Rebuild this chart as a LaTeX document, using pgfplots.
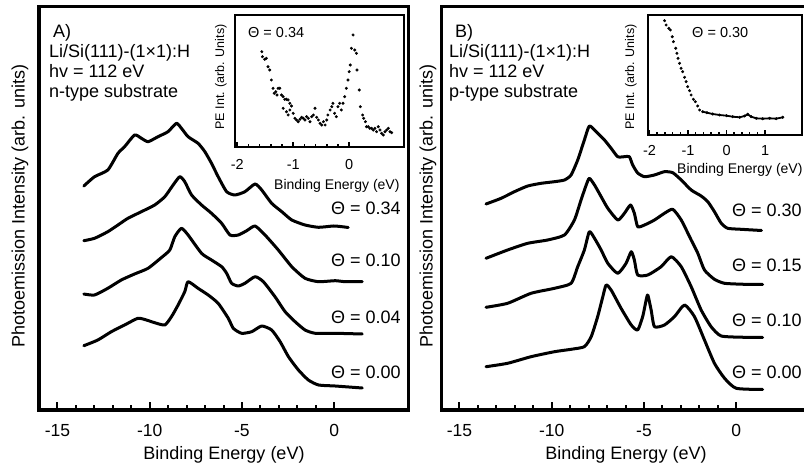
\documentclass[border=0pt]{standalone}
\usepackage{pgfplots}
\pgfplotsset{compat=1.18}
\usepackage{fontspec}
\setmainfont{Liberation Sans}
\newcommand\fbig{\fontsize{18bp}{21bp}\selectfont}
\newcommand\ftick{\fontsize{17.5bp}{20bp}\selectfont}
\newcommand\fins{\fontsize{14.5bp}{17bp}\selectfont}
\newcommand\fxl{\fontsize{14bp}{17bp}\selectfont}
\newcommand\fsmall{\fontsize{12.5bp}{15bp}\selectfont}
\pgfplotsset{
  mainax/.style={
    scale only axis, width=369bp, height=403bp,
    xmin=-16, xmax=4, ymin=58, ymax=461,
    axis line style={line width=3bp},
    xtick={-15,-10,-5,0}, xticklabels={-15,-10,-5,0},
    minor x tick num=4, ytick=\empty,
    xtick pos=bottom, tick align=inside,
    major tick length=8bp, minor tick length=5bp,
    tick style={line width=2bp, black},
    xticklabel style={anchor=base, yshift=-26bp, font=\ftick},
    anchor=south west, clip=false,
  },
  insetax/.style={
    scale only axis, anchor=south west,
    axis line style={line width=2.6bp},
    axis background/.style={fill=white},
    minor x tick num=4, ytick=\empty,
    xtick pos=bottom, tick align=inside,
    major tick length=5bp, minor tick length=3bp,
    tick style={line width=1.5bp, black},
    xticklabel style={anchor=base, font=\fins},
  },
  spec/.style={black, line width=3bp, line join=round, line cap=round, no marks, smooth, tension=0.35},
  dots/.style={black, only marks, mark=*, mark size=1.3bp},
}
\begin{document}
\begin{tikzpicture}
\useasboundingbox (0,0) rectangle (804bp,468bp);
\begin{scope}
\clip (0,0) rectangle (804bp,468bp);
% Panel A
\begin{axis}[mainax, at={(39bp,58bp)}]
\addplot[spec] coordinates {(-13.57,282) (-12.99,291.3) (-12.27,298) (-11.72,314.7) (-11.36,321.3) (-10.82,333) (-10.45,329.7) (-10.09,326.3) (-9.55,331.3) (-9.01,336.3) (-8.55,344.7) (-8.28,339.7) (-7.92,331.3) (-7.38,324.7) (-7.01,316.3) (-6.65,304.7) (-6.29,291.3) (-5.83,276.3) (-5.38,273) (-4.84,276.3) (-4.29,284) (-3.93,278) (-3.39,264.7) (-2.84,256.3) (-2.30,248) (-1.58,243) (-0.85,240.7) (-0.04,242) (0.42,241.3) (0.76,240.5)};
\addplot[spec] coordinates {(-13.57,227.3) (-12.99,229.7) (-12.27,236.3) (-11.72,243) (-11.18,249.7) (-10.45,256.3) (-9.73,263) (-9.18,271.3) (-8.73,283) (-8.37,291.3) (-8.10,286.3) (-7.73,273) (-7.19,263) (-6.65,254.7) (-6.10,244.7) (-5.65,233) (-5.20,233) (-4.74,237.3) (-4.29,242) (-3.75,233) (-3.03,218) (-2.30,201.3) (-1.58,189.7) (-0.85,186.3) (0.05,187.3) (0.60,186.3) (1.52,186.3)};
\addplot[spec] coordinates {(-13.57,174) (-12.99,173) (-12.27,179.7) (-11.54,188) (-10.82,194) (-10.09,199.7) (-9.36,210.5) (-8.91,218) (-8.64,231.3) (-8.28,239.7) (-7.92,233) (-7.19,214.7) (-6.65,208) (-6.10,201.3) (-5.83,194.7) (-5.56,184.7) (-5.20,182) (-4.84,184.7) (-4.29,191.3) (-3.84,186.3) (-3.21,171.3) (-2.66,156.3) (-2.12,146.3) (-1.58,138) (-1.03,134.7) (0.05,134.7) (1.52,134)};
\addplot[spec] coordinates {(-13.57,122.3) (-12.81,128) (-12.08,136.3) (-11.36,143) (-10.64,149.7) (-10.18,148) (-9.73,145.3) (-9.18,143) (-8.82,151.3) (-8.46,163) (-8.10,176.3) (-7.92,186.3) (-7.38,179.7) (-6.83,173) (-6.29,164.7) (-5.74,149.7) (-5.47,139.7) (-5.02,134.7) (-4.47,136.3) (-3.93,142) (-3.39,138) (-2.93,126.3) (-2.48,111.3) (-1.94,98) (-1.40,88) (-0.85,83) (0.05,82) (1.52,80)};
\end{axis}
% Panel B
\begin{axis}[mainax, at={(441bp,58bp)}]
\addplot[spec] coordinates {(-13.56,264) (-12.74,269.7) (-12.02,276.3) (-11.30,282) (-10.57,284.7) (-9.85,286.3) (-9.31,288) (-8.95,293) (-8.59,308) (-8.23,328) (-7.96,342) (-7.59,336.3) (-7.14,328) (-6.78,319.7) (-6.42,311.3) (-6.06,311.3) (-5.79,311.3) (-5.61,303) (-5.34,295) (-4.97,291.3) (-4.43,293) (-3.89,296.3) (-3.44,295.3) (-2.98,288) (-2.44,278) (-1.90,272) (-1.54,266.3) (-1.18,256.3) (-0.81,244.7) (-0.46,239.7) (0.27,238.7) (1.37,237.5)};
\addplot[spec] coordinates {(-13.56,209.7) (-12.39,218) (-11.30,224.7) (-10.22,228) (-9.31,233) (-8.77,248) (-8.41,268) (-8.13,283) (-7.96,289.7) (-7.68,283) (-7.32,271.3) (-6.96,259.7) (-6.42,248) (-6.06,254.7) (-5.73,263) (-5.52,254.7) (-5.34,241.3) (-4.97,243) (-4.43,248) (-3.89,254.7) (-3.44,258.7) (-2.98,248) (-2.44,228) (-2.08,214.7) (-1.72,198) (-1.18,188.7) (-0.63,184.7) (0.45,183.7) (1.43,183.5)};
\addplot[spec] coordinates {(-13.56,160.7) (-12.39,164.7) (-11.12,174.7) (-9.85,179.7) (-8.95,184.7) (-8.59,201.3) (-8.23,218) (-7.96,236.3) (-7.68,229.7) (-7.32,218) (-6.96,204.7) (-6.42,194.7) (-5.97,204.7) (-5.69,216.3) (-5.52,208) (-5.34,193) (-4.79,193) (-4.07,201.3) (-3.52,211.3) (-2.98,201.3) (-2.44,181.3) (-1.90,158) (-1.36,141.3) (-0.81,132) (0.45,130.7) (1.43,130.5)};
\addplot[spec] coordinates {(-13.56,101.3) (-12.39,104.7) (-11.12,111.3) (-9.85,116.3) (-8.95,118.7) (-8.23,121.3) (-7.86,131.3) (-7.51,151.3) (-7.23,171.3) (-7.05,183) (-6.78,178) (-6.24,159.7) (-5.69,143) (-5.34,138) (-5.07,151.3) (-4.88,168) (-4.79,173) (-4.61,158) (-4.43,141.3) (-3.89,143) (-3.35,151.3) (-2.80,163) (-2.26,151.3) (-1.72,128) (-1.18,104.7) (-0.63,89.7) (0,79.7) (1.43,78.5)};
\end{axis}
% Inset A
\begin{axis}[insetax, at={(235bp,321bp)}, width=169bp, height=132bp,
  xmin=-2.04, xmax=0.98, ymin=321, ymax=453,
  xtick={-2,-1,0}, xticklabels={-2,-1,0}, xticklabel style={yshift=-23bp}]
\addplot[dots] coordinates {(-1.56,416.3) (-1.55,411.3) (-1.51,408.7) (-1.48,409.7) (-1.45,401.3) (-1.42,398) (-1.39,388) (-1.36,379.7) (-1.34,374.7) (-1.31,376.3) (-1.29,373) (-1.27,379.7) (-1.24,379.7) (-1.21,373) (-1.18,371.3) (-1.15,368.7) (-1.12,368.7) (-1.09,368) (-1.06,364.7) (-1.03,362) (-1.18,359.7) (-1.12,356.3) (-1.09,353) (-1.06,358) (-1.00,354.7) (-0.97,349.7) (-0.94,348) (-0.91,346.3) (-0.88,348.7) (-0.85,350.7) (-0.82,349.7) (-0.79,348) (-0.76,351.3) (-0.73,349.7) (-0.70,346.3) (-0.67,351.3) (-0.64,353) (-0.61,359.7) (-0.58,350.7) (-0.55,348) (-0.52,344.7) (-0.49,343) (-0.46,346.3) (-0.43,343) (-0.40,348) (-0.38,353) (-0.34,358) (-0.31,361.3) (-0.29,364.7) (-0.26,354.7) (-0.23,351.3) (-0.20,361.3) (-0.17,364.7) (-0.14,358) (-0.11,364.7) (-0.08,371.3) (-0.05,379.7) (-0.02,388) (0.00,396.3) (0.02,403) (0.04,419.7) (0.07,433) (0.10,418) (0.13,414.7) (0.14,398) (0.18,378) (0.20,361.3) (0.24,353) (0.26,349.7) (0.29,346.3) (0.31,341.3) (0.34,341.3) (0.37,339.7) (0.40,339.7) (0.43,338) (0.46,339.7) (0.49,336.3) (0.52,341.3) (0.55,338) (0.58,334.7) (0.61,333) (0.64,336.3) (0.67,338) (0.70,339.7) (0.73,336.3) (0.76,335.3)};
\end{axis}
% Inset B
\begin{axis}[insetax, at={(648bp,333bp)}, width=154bp, height=120bp,
  xmin=-2.04, xmax=1.96, ymin=333, ymax=453,
  xtick={-2,-1,0,1}, xticklabels={-2,-1,0,1}, xticklabel style={yshift=-21bp}]
\addplot[dots] coordinates {(-1.61,447.3) (-1.57,443) (-1.50,439.7) (-1.46,438) (-1.41,431.3) (-1.38,426.3) (-1.32,419.7) (-1.29,414.7) (-1.26,409.7) (-1.22,404.7) (-1.18,399.7) (-1.14,396.3) (-1.09,390.7) (-1.05,386.3) (-1.01,381.3) (-0.96,377.3) (-0.92,373) (-0.86,368.7) (-0.81,366.3) (-0.75,362) (-0.70,358) (-0.62,356.3) (-0.51,355.3) (-0.36,354) (-0.18,353) (0.00,352.3) (0.16,351.3) (0.34,350.7) (0.47,352) (0.55,353.7) (0.64,351.3) (0.77,349.7) (0.94,349.3) (1.12,349.7) (1.29,349.3) (1.46,350.7)};
\addplot[black, line width=1.8bp, no marks] coordinates {(-0.62,356.3) (-0.51,355.3) (-0.36,354) (-0.18,353) (0.00,352.3) (0.16,351.3) (0.34,350.7) (0.47,352) (0.55,353.7) (0.64,351.3) (0.77,349.7) (0.94,349.3) (1.12,349.7) (1.29,349.3) (1.46,350.7)};
\end{axis}
% Texts
\begin{scope}[every node/.style={inner sep=0pt, font=\fbig}]
\node[anchor=base west] at (53bp,430bp) {A)};
\node[anchor=base west] at (49bp,410bp) {Li/Si(111)-(1×1):H};
\node[anchor=base west] at (49bp,390bp) {hv = 112 eV};
\node[anchor=base west] at (49bp,370bp) {n-type substrate};
\node[anchor=base west] at (455bp,430bp) {B)};
\node[anchor=base west] at (449bp,410bp) {Li/Si(111)-(1×1):H};
\node[anchor=base west] at (449bp,390bp) {hv = 112 eV};
\node[anchor=base west] at (449bp,370bp) {p-type substrate};
\node[anchor=base west] at (331bp,253bp) {Θ = 0.34};
\node[anchor=base west] at (331bp,201bp) {Θ = 0.10};
\node[anchor=base west] at (331bp,144bp) {Θ = 0.04};
\node[anchor=base west] at (331bp,89bp) {Θ = 0.00};
\node[anchor=base west] at (732bp,251bp) {Θ = 0.30};
\node[anchor=base west] at (732bp,196bp) {Θ = 0.15};
\node[anchor=base west] at (732bp,141bp) {Θ = 0.10};
\node[anchor=base west] at (732bp,89bp) {Θ = 0.00};
\node[anchor=base] at (224bp,9bp) {Binding Energy (eV)};
\node[anchor=base] at (626bp,9bp) {Binding Energy (eV)};
\node[rotate=90] at (20bp,262bp) {Photoemission Intensity (arb. units)};
\node[rotate=90] at (428bp,262bp) {Photoemission Intensity (arb. units)};
\node[anchor=base west, font=\fins] at (248bp,430bp) {Θ = 0.34};
\node[anchor=base west, font=\fins] at (692bp,430bp) {Θ = 0.30};
\node[anchor=base west, font=\fxl] at (274bp,278bp) {Binding Energy (eV)};
\node[anchor=base west, font=\fxl] at (677bp,294bp) {Binding Energy (eV)};
\node[rotate=90, font=\fsmall] at (221bp,391bp) {PE Int. (arb. Units)};
\node[rotate=90, font=\fsmall] at (631bp,391bp) {PE Int. (arb. Units)};
\end{scope}
\end{scope}
\end{tikzpicture}
\end{document}
